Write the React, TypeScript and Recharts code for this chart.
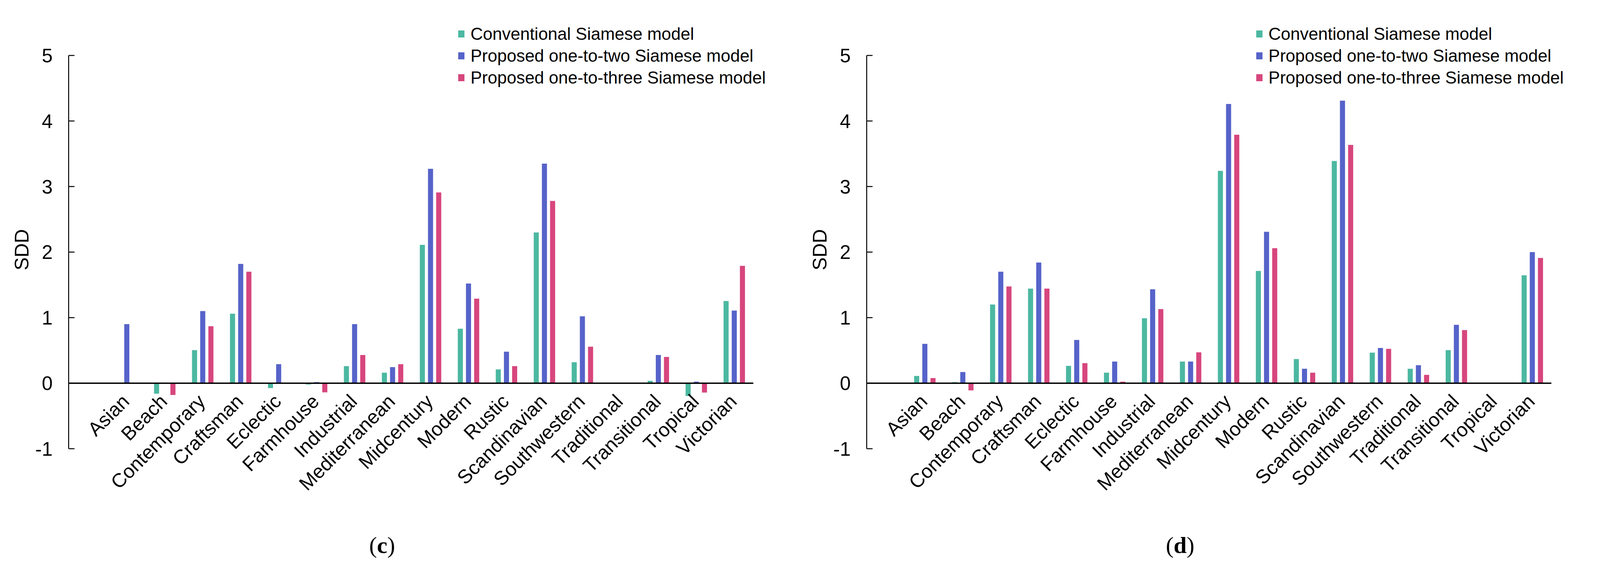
import { BarChart, Bar, XAxis, YAxis, ReferenceLine, Legend } from 'recharts'

const categories = [
  'Asian', 'Beach', 'Contemporary', 'Craftsman', 'Eclectic', 'Farmhouse', 'Industrial',
  'Mediterranean', 'Midcentury', 'Modern', 'Rustic', 'Scandinavian', 'Southwestern',
  'Traditional', 'Transitional', 'Tropical', 'Victorian',
]

const yTicks = [-1, 0, 1, 2, 3, 4, 5]

const seriesNames = [
  'Conventional Siamese model',
  'Proposed one-to-two Siamese model',
  'Proposed one-to-three Siamese model',
]

// panel (c)
const conventionalC = [0, -0.16, 0.505, 1.06, -0.075, -0.02, 0.26, 0.16, 2.11, 0.83, 0.21, 2.3, 0.32, 0, 0.036, -0.195, 1.254]
const oneToTwoC = [0.9, 0, 1.1, 1.82, 0.29, 0.016, 0.9, 0.245, 3.27, 1.52, 0.48, 3.35, 1.02, 0, 0.43, 0.023, 1.107]
const oneToThreeC = [0, -0.18, 0.87, 1.7, 0, -0.14, 0.43, 0.29, 2.91, 1.29, 0.26, 2.78, 0.557, 0, 0.4, -0.143, 1.79]

// panel (d)
const conventionalD = [0.11, 0.016, 1.2, 1.443, 0.264, 0.16, 0.99, 0.33, 3.24, 1.713, 0.368, 3.39, 0.466, 0.22, 0.505, 0, 1.645]
const oneToTwoD = [0.6, 0.17, 1.7, 1.84, 0.66, 0.33, 1.433, 0.33, 4.26, 2.31, 0.22, 4.31, 0.537, 0.274, 0.89, 0, 2.0]
const oneToThreeD = [0.078, -0.11, 1.475, 1.443, 0.306, 0.023, 1.13, 0.47, 3.79, 2.06, 0.16, 3.635, 0.524, 0.127, 0.81, 0, 1.91]

const COLORS = ['#4cb8a1', '#5663c9', '#d7467d']
const FONT = '"Liberation Sans", Arial, Helvetica, sans-serif'

// the browser caps the window width, so horizontal sizes follow the real width
const FULL_W = 4405
const VW = typeof window !== 'undefined' && window.innerWidth ? Math.min(window.innerWidth, FULL_W) : FULL_W
const SX = VW / FULL_W

const H = 1457
const PANEL_W = 2197 * SX
const TOP = 142
const PLOT_BOTTOM = 1149
const AXIS_X = 189 * SX
const PLOT_RIGHT = 2074 * SX
const ZERO_Y = TOP + ((PLOT_BOTTOM - TOP) * 5) / 6
const TICK_FONT = 50

function CatTick(props: any) {
  const { x, payload } = props
  const ax = x + 10 * SX
  const ay = ZERO_Y + 50
  return (
    <text
      x={ax}
      y={ay}
      textAnchor="end"
      fontSize={TICK_FONT}
      fontFamily={FONT}
      fill="#000"
      transform={`rotate(-45 ${ax} ${ay})`}
    >
      {payload.value}
    </text>
  )
}

function ValTick(props: any) {
  const { x, y, payload } = props
  return (
    <g>
      <line x1={AXIS_X} x2={AXIS_X + 15} y1={y} y2={y} stroke="#000" strokeWidth={2.5} />
      <text x={x} y={y} dy="0.36em" textAnchor="end" fontSize={TICK_FONT} fontFamily={FONT} fill="#000">
        {payload.value}
      </text>
    </g>
  )
}

function LegendBox(props: any) {
  const items = [...(props.payload || [])].sort(
    (a: any, b: any) => seriesNames.indexOf(a.value) - seriesNames.indexOf(b.value),
  )
  return (
    <div style={{ fontFamily: FONT, fontSize: 44, color: '#000' }}>
      {items.map((p: any) => (
        <div key={p.value} style={{ display: 'flex', alignItems: 'center', height: 56, whiteSpace: 'nowrap' }}>
          <span style={{ display: 'inline-block', width: 16, height: 18, background: p.color, marginRight: 15 }} />
          <span>{p.value}</span>
        </div>
      ))}
    </div>
  )
}

function Panel({ left, letter, conv, two, three }: any) {
  const data = categories.map((name, i) => ({ name, conv: conv[i], two: two[i], three: three[i] }))
  const yAxisW = 110
  const labelY = (TOP + PLOT_BOTTOM) / 2 - 6
  const labelX = 60 * SX
  return (
    <div style={{ position: 'absolute', left, top: 0, width: PANEL_W, height: H }}>
      <BarChart
        width={PANEL_W}
        height={H}
        data={data}
        margin={{ top: TOP, right: PANEL_W - PLOT_RIGHT, bottom: H - PLOT_BOTTOM - 30, left: AXIS_X - yAxisW }}
        barSize={14 * SX}
        barGap={8.5 * SX}
      >
        <XAxis
          dataKey="name"
          height={30}
          axisLine={false}
          tickLine={false}
          interval={0}
          padding={{ left: 108 * SX, right: 0 }}
          tick={<CatTick />}
        />
        <YAxis
          domain={[-1, 5]}
          ticks={yTicks}
          width={yAxisW}
          axisLine={{ stroke: '#000', strokeWidth: 2.5 }}
          tickLine={false}
          tickSize={0}
          tickMargin={AXIS_X - 145 * SX}
          tick={<ValTick />}
          label={{
            content: () => (
              <text
                x={labelX}
                y={labelY}
                textAnchor="middle"
                dominantBaseline="central"
                fontSize={TICK_FONT}
                fontFamily={FONT}
                fill="#000"
                transform={`rotate(-90 ${labelX} ${labelY})`}
              >
                SDD
              </text>
            ),
          }}
        />
        <ReferenceLine y={0} stroke="#000" strokeWidth={3.5} />
        <Legend
          layout="vertical"
          align="center"
          verticalAlign="middle"
          wrapperStyle={{ position: 'absolute', left: 1262 * SX, top: 59, width: 'auto' }}
          content={<LegendBox />}
        />
        <Bar dataKey="conv" name={seriesNames[0]} fill={COLORS[0]} isAnimationActive={false} />
        <Bar dataKey="two" name={seriesNames[1]} fill={COLORS[1]} isAnimationActive={false} />
        <Bar dataKey="three" name={seriesNames[2]} fill={COLORS[2]} isAnimationActive={false} />
      </BarChart>
      <div
        style={{
          position: 'absolute',
          left: 1052 * SX,
          top: 1396,
          transform: 'translate(-50%, -50%)',
          fontFamily: '"Liberation Serif", "Times New Roman", serif',
          fontSize: 60,
          lineHeight: 1,
          color: '#000',
          whiteSpace: 'nowrap',
        }}
      >
        (<b>{letter}</b>)
      </div>
    </div>
  )
}

export default function App() {
  return (
    <div style={{ position: 'absolute', left: 0, top: 0, width: VW, height: H, background: '#fff' }}>
      <Panel left={0} letter="c" conv={conventionalC} two={oneToTwoC} three={oneToThreeC} />
      <Panel left={PANEL_W} letter="d" conv={conventionalD} two={oneToTwoD} three={oneToThreeD} />
    </div>
  )
}
